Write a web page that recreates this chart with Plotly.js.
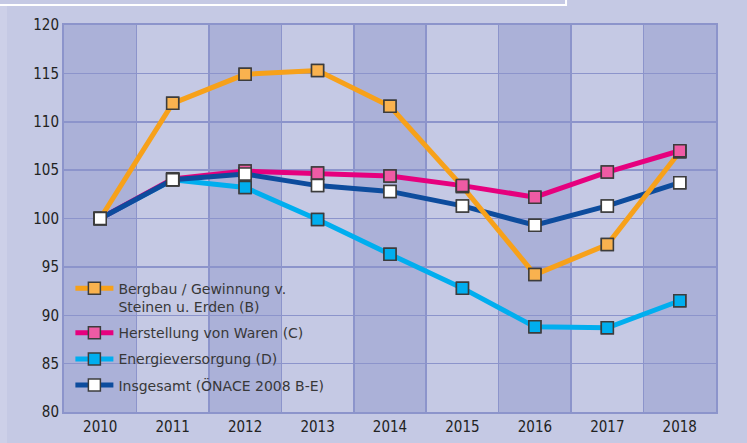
<!DOCTYPE html>
<html>
<head>
<meta charset="utf-8">
<script src="https://cdn.plot.ly/plotly-3.0.1.min.js"></script>
<style>html,body{margin:0;padding:0;background:#c5c9e4;}#chart{width:747px;height:443px;}</style>
</head>
<body>
<div id="chart"></div>
<script>
const years = [2010, 2011, 2012, 2013, 2014, 2015, 2016, 2017, 2018];
const bergbau = [100, 111.9, 114.9, 115.3, 111.6, 103.3, 94.2, 97.3, 106.9];
const herstellung = [100, 104.1, 104.9, 104.7, 104.4, 103.4, 102.2, 104.8, 107.0];
const energie = [100, 104.0, 103.2, 99.9, 96.3, 92.8, 88.8, 88.7, 91.5];
const insgesamt = [100, 104.0, 104.6, 103.4, 102.8, 101.3, 99.3, 101.3, 103.7];
const names = {
  b: 'Bergbau / Gewinnung v.<br>Steinen u. Erden (B)',
  h: 'Herstellung von Waren (C)',
  e: 'Energieversorgung (D)',
  i: 'Insgesamt (ÖNACE 2008 B-E)'
};
const yTicks = [80, 85, 90, 95, 100, 105, 110, 115, 120];

const series = {
  b: {y: bergbau, line: '#f7a11a', fill: '#f9b24f', rank: 1},
  h: {y: herstellung, line: '#e6007e', fill: '#ef5ba4', rank: 2},
  e: {y: energie, line: '#00aeef', fill: '#00aeef', rank: 3},
  i: {y: insgesamt, line: '#0d4c9d', fill: '#ffffff', rank: 4}
};
const mk = (k) => ({symbol: 'square', size: 12, color: series[k].fill, line: {color: '#3c3c3c', width: 1.5}});

const traces = [];
// line layer (draw order: cyan, pink, navy, orange)
['e', 'h', 'i', 'b'].forEach(k => {
  traces.push({
    x: years, y: series[k].y, name: names[k], type: 'scatter', mode: 'lines+markers',
    line: {color: series[k].line, width: 5}, marker: mk(k),
    legendrank: series[k].rank, legendgroup: k, hoverinfo: 'skip'
  });
});
// marker layer (orange, cyan, pink, navy on top)
['b', 'e', 'h', 'i'].forEach(k => {
  traces.push({
    x: years, y: series[k].y, type: 'scatter', mode: 'markers',
    marker: mk(k), showlegend: false, hoverinfo: 'skip'
  });
});

const shapes = [];
years.forEach((yr, i) => {
  if (i % 2 === 0) {
    shapes.push({type: 'rect', xref: 'x', yref: 'paper', x0: yr - 0.5, x1: yr + 0.5, y0: 0, y1: 1,
      fillcolor: '#abb1d8', line: {width: 0}, layer: 'below'});
  }
});
// decorative page frame remnants
shapes.push({type: 'rect', xref: 'paper', yref: 'paper', x0: -0.0982, x1: -0.0874, y0: -0.09, y1: 1.049,
  fillcolor: '#cdd0e8', line: {width: 0}, layer: 'below'});
shapes.push({type: 'rect', xref: 'paper', yref: 'paper', x0: -0.106, x1: 0.770, y0: 1.0517, y1: 1.09,
  fillcolor: 'rgba(0,0,0,0)', line: {color: '#ffffff', width: 2}, layer: 'above'});

const tickFont = {family: '"DejaVu Sans Condensed", "Liberation Sans Narrow", "Arial Narrow", "Liberation Sans", sans-serif', size: 15, color: '#222'};

const layout = {
  width: 747, height: 443,
  margin: {l: 64, r: 31, t: 25, b: 31, pad: 0},
  paper_bgcolor: '#c5c9e4', plot_bgcolor: '#c5c9e4',
  showlegend: true,
  legend: {
    x: 0.0098, y: 0.36, xanchor: 'left', yanchor: 'top',
    bgcolor: 'rgba(0,0,0,0)', borderwidth: 0,
    font: {family: 'DejaVu Sans', size: 14, color: '#383838'},
    itemwidth: 38, valign: 'top', traceorder: 'grouped', tracegroupgap: 5
  },
  xaxis: {
    range: [years[0] - 0.5, years[years.length - 1] + 0.5],
    tickvals: years, ticktext: years.map(String),
    showgrid: false, zeroline: false, ticks: '',
    showline: true, mirror: true, linecolor: '#8c94cb', linewidth: 2,
    minor: {tick0: years[0] - 0.5, dtick: 1, showgrid: true, gridcolor: '#8c94cb', gridwidth: 1.5, ticks: ''},
    tickfont: tickFont,
    fixedrange: true
  },
  yaxis: {
    range: [80, 120], tickvals: yTicks, ticktext: yTicks.map(String),
    showgrid: true, gridcolor: '#8c94cb', gridwidth: 1.5, zeroline: false, ticks: '',
    showline: true, mirror: true, linecolor: '#8c94cb', linewidth: 2,
    tickfont: tickFont,
    fixedrange: true
  },
  shapes: shapes
};

Plotly.newPlot('chart', traces, layout, {displayModeBar: false, staticPlot: true});
</script>
</body>
</html>
